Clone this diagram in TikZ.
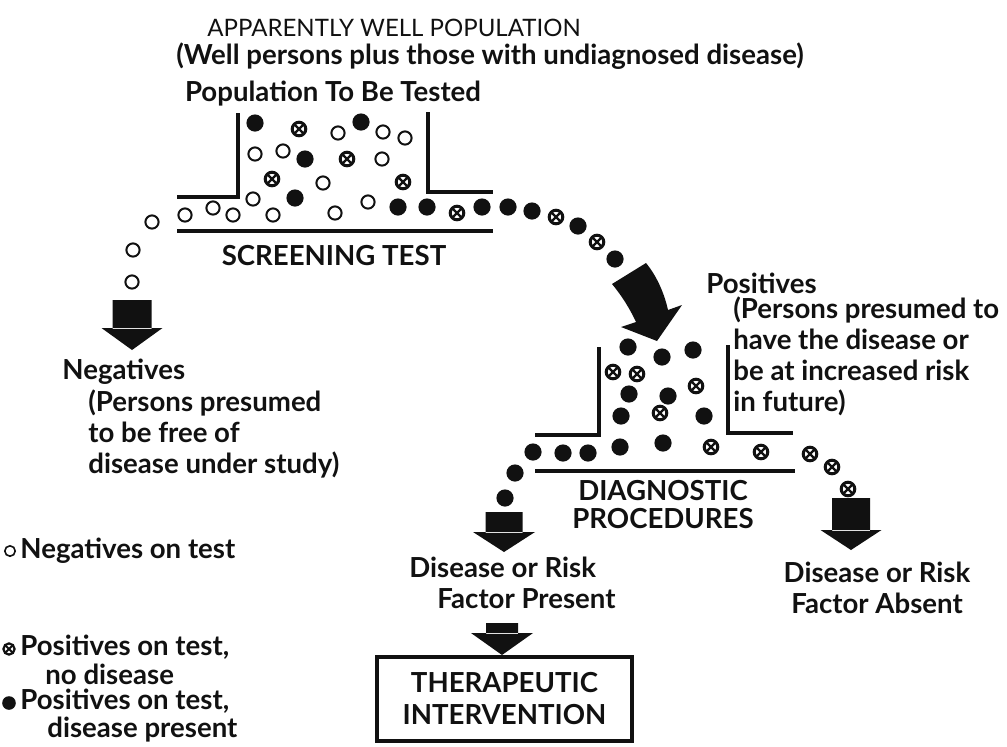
\documentclass[tikz,border=0pt]{standalone}
\usepackage{fontspec}
\setmainfont{Lato}
\usetikzlibrary{positioning}
\definecolor{inkblack}{HTML}{111111}

\begin{document}
\begin{tikzpicture}[x=0.5pt,y=-0.5pt,
    lbl/.style={inner sep=0pt,text=inkblack,font=\bfseries\fontsize{13.8}{15.5}\selectfont},
    wall/.style={line width=1.6pt,draw=inkblack},
    floor/.style={line width=2pt,draw=inkblack}]
  \useasboundingbox (0,0) rectangle (1007,746);
  % headings
  \node[lbl,font=\fontsize{12}{15.5}\selectfont,anchor=base] (title) at (394,36) {APPARENTLY WELL POPULATION};
  \node[lbl,anchor=base] (subtitle) at (490,64) {(Well persons plus those with undiagnosed disease)};
  \node[lbl,anchor=base] (popname) at (333,101) {Population To Be Tested};
  % screening funnel
  \draw[wall] (177,197) -- (238,197) -- (238,113);
  \draw[wall] (428,112) -- (428,192) -- (493,192);
  \draw[floor] (177,231) -- (493,231);
  \node[lbl,anchor=base] (screen) at (334,265) {SCREENING TEST};
  % diagnostic funnel
  \draw[wall] (535,435) -- (599,435) -- (599,347);
  \draw[wall] (728,345) -- (728,433) -- (793,433);
  \draw[floor] (535,471) -- (795,471);
  \node[lbl,align=center,anchor=base,font=\bfseries\fontsize{13.8}{14}\selectfont] (diag) at (663,528) {DIAGNOSTIC\\PROCEDURES};
  % persons
  \foreach \p in {(255,123),(361,122),(305,159),(295,198),(398,207),(427,207),(482,207),(508,207),
                  (532,211),(578,226),(615,259),
                  (628,347),(662,357),(693,350),(629,394),(668,396),(621,416),(704,416),
                  (620,447),(663,443),(588,453),(563,453),(533,452),(515,473),(505,498)} {
    \fill[inkblack] \p circle[radius=4.3pt];
  };
  \foreach \p in {(338,133),(383,132),(405,138),(255,154),(283,151),(382,159),(323,183),(253,199),
                  (185,215),(213,208),(233,215),(273,215),(335,213),(368,202),
                  (152,222),(133,250),(132,282)} {
    \draw[inkblack,line width=1pt] \p circle[radius=3.3pt];
  };
  \foreach \p in {(299,129),(347,159),(272,179),(403,182),(457,213),(556,217),(597,242),
                  (613,372),(637,374),(696,386),(660,413),(711,447),(761,452),(810,454),(832,467),(848,489)} {
    \draw[inkblack,line width=1.5pt,fill=white] \p circle[radius=3.4pt];
    \draw[inkblack,line width=1.2pt] \p ++(-2.4pt,-2.4pt) -- ++(4.8pt,4.8pt) \p ++(-2.4pt,2.4pt) -- ++(4.8pt,-4.8pt);
  };
  % block arrows
  \fill[inkblack] (612,284) .. controls (622,296) and (630,309) .. (636,322) -- (621,327) -- (657,341)
    -- (682,305) -- (668,310) .. controls (664,292) and (656,275) .. (646,263) -- cycle;
  \foreach \cx/\ya/\yb/\yc/\sw/\hw in {132/300/328/350/19.5/30.5, 504/512/532/552/18.5/31,
                                       851/498/530/550/19/30.5, 502/623/633/655/16/31} {
    \fill[inkblack] (\cx-\sw,\ya) rectangle (\cx+\sw,\yb+1) (\cx-\hw,\yb) -- (\cx+\hw,\yb) -- (\cx,\yc) -- cycle;
  };
  % outcomes
  \node[lbl,anchor=base west] (neg) at (62,379) {Negatives};
  \node[lbl,anchor=base west,align=left] (negnote) at (88,473) {(Persons presumed\\to be free of\\disease under study)};
  \node[lbl,anchor=base west] (pos) at (706,293) {Positives};
  \node[lbl,anchor=base west,align=left] (posnote) at (733,411) {(Persons presumed to\\have the disease or\\be at increased risk\\in future)};
  \node[lbl,anchor=base west,align=left] (present) at (409,608) {Disease or Risk\\\hspace*{14pt}Factor Present};
  \node[lbl,anchor=base,align=center] (absent) at (877,613) {Disease or Risk\\Factor Absent};
  \node[lbl,draw=inkblack,line width=2pt,minimum width=127.5pt,minimum height=42pt,align=center,
        font=\bfseries\fontsize{13.8}{16}\selectfont] (therapy) at (504.5,699) {THERAPEUTIC\\INTERVENTION};
  % legend
  \draw[inkblack,line width=0.8pt] (10,551) circle[radius=2.6pt];
  \draw[inkblack,line width=1.1pt,fill=white] (9,649) circle[radius=2.8pt];
  \draw[inkblack,line width=0.9pt] (9,649) ++(-2pt,-2pt) -- ++(4pt,4pt) (9,649) ++(-2pt,2pt) -- ++(4pt,-4pt);
  \fill[inkblack] (9,703) circle[radius=3.4pt];
  \node[lbl,anchor=base west] (keyneg) at (20,558) {Negatives on test};
  \node[lbl,anchor=base west,align=left,font=\bfseries\fontsize{13.8}{14.5}\selectfont] (keyfalse) at (20,684) {Positives on test,\\\hspace*{12.5pt}no disease};
  \node[lbl,anchor=base west,align=left,font=\bfseries\fontsize{13.8}{14}\selectfont] (keytrue) at (20,737) {Positives on test,\\\hspace*{13.5pt}disease present};
\end{tikzpicture}
\end{document}
